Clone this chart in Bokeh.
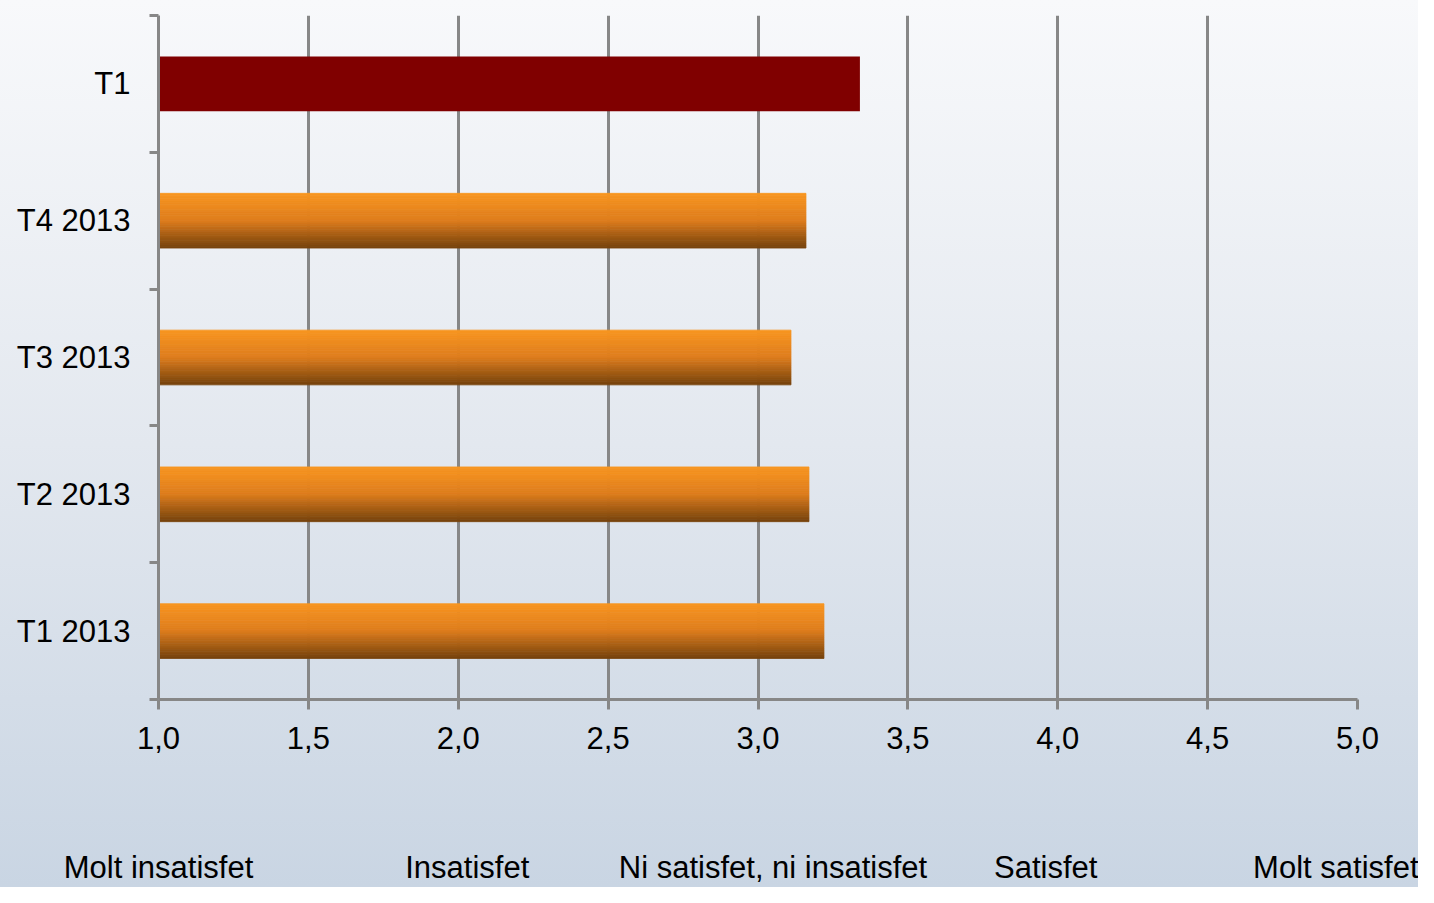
from bokeh.plotting import figure
from bokeh.models import FixedTicker, InlineStyleSheet, Range1d, LinearAxis
from bokeh.embed import file_html
from bokeh.resources import INLINE

# ---- data ----
categories = ["T1 2013", "T2 2013", "T3 2013", "T4 2013", "T1"]
values = [3.22, 3.17, 3.11, 3.16, 3.34]
highlight = [False, False, False, False, True]
x_ticks = [1.0, 1.5, 2.0, 2.5, 3.0, 3.5, 4.0, 4.5, 5.0]
x_tick_labels = ["1,0", "1,5", "2,0", "2,5", "3,0", "3,5", "4,0", "4,5", "5,0"]
scale_labels = ["Molt insatisfet", "Insatisfet", "Ni satisfet, ni insatisfet", "Satisfet", "Molt satisfet"]
scale_label_x = [1.0, 2.03, 3.05, 3.96, 4.95]

FONT = "Liberation Sans"
FS = "31px"
GRID = "#878787"

p = figure(width=1418, height=887, output_backend="svg", toolbar_location=None,
           x_range=Range1d(1, 5), y_range=Range1d(0, len(categories)),
           min_border_left=158, min_border_right=61, min_border_top=15, min_border_bottom=188)
p.outline_line_color = None
p.background_fill_alpha = 0
p.border_fill_alpha = 0
p.stylesheets = [InlineStyleSheet(css=":host { background: linear-gradient(to bottom, #f8f9fb 0%, #e3e8ef 50%, #c9d5e3 100%); }")]

# ---- bars (gradient simulated by horizontal slices) ----
bar_h = 0.4
N = 30
top_c = (249, 150, 32)
mid_c = (222, 125, 29)
bot_c = (118, 66, 12)

def grad(t):
    if t < 0.5:
        a, b, u = top_c, mid_c, t / 0.5
    else:
        a, b, u = mid_c, bot_c, (t - 0.5) / 0.5
    return "#%02x%02x%02x" % tuple(int(round(a[j] + (b[j] - a[j]) * u)) for j in range(3))

ys, rights, cols = [], [], []
hy, hr = [], []
sh = bar_h / N
for i, (cat, v, hl) in enumerate(zip(categories, values, highlight)):
    c = i + 0.5
    if hl:
        hy.append(c)
        hr.append(v)
        continue
    for k in range(N):
        ys.append(c + bar_h / 2 - (k + 0.5) * sh)
        rights.append(v)
        cols.append(grad((k + 0.5) / N))

p.hbar(y=ys, left=1, right=rights, height=sh, fill_color=cols, line_color=cols, line_width=0.8)
p.hbar(y=hy, left=1, right=hr, height=bar_h, fill_color="#800000", line_color=None)

# ---- axes ----
p.xaxis.ticker = FixedTicker(ticks=x_ticks, minor_ticks=[])
p.xaxis.major_label_overrides = {t: l for t, l in zip(x_ticks, x_tick_labels)}
p.xaxis.axis_line_color = GRID
p.xaxis.axis_line_width = 3
p.xaxis.major_tick_line_color = GRID
p.xaxis.major_tick_line_width = 3
p.xaxis.major_tick_out = 10
p.xaxis.major_tick_in = 0
p.xaxis.minor_tick_out = 0
p.xaxis.major_label_standoff = 17
p.xaxis.major_label_text_font = FONT
p.xaxis.major_label_text_font_size = FS
p.xaxis.major_label_text_color = "black"

# second bottom axis carrying the scale descriptions
scale_axis = LinearAxis(ticker=FixedTicker(ticks=scale_label_x, minor_ticks=[]),
                        major_label_overrides={x: l for x, l in zip(scale_label_x, scale_labels)},
                        axis_line_color=None, major_tick_line_color=None, minor_tick_line_color=None,
                        major_tick_out=0, major_tick_in=0, minor_tick_out=0, minor_tick_in=0,
                        major_label_standoff=98, major_label_text_font=FONT,
                        major_label_text_font_size=FS, major_label_text_color="black")
p.add_layout(scale_axis, "below")

ycent = [i + 0.5 for i in range(len(categories))]
p.yaxis.ticker = FixedTicker(ticks=ycent, minor_ticks=list(range(len(categories) + 1)))
p.yaxis.major_label_overrides = {c: n for c, n in zip(ycent, categories)}
p.yaxis.axis_line_color = GRID
p.yaxis.axis_line_width = 3
p.yaxis.major_tick_out = 0
p.yaxis.major_tick_in = 0
p.yaxis.minor_tick_out = 9
p.yaxis.minor_tick_in = 0
p.yaxis.minor_tick_line_color = GRID
p.yaxis.minor_tick_line_width = 3
p.yaxis.major_label_standoff = 19
p.yaxis.major_label_text_font = FONT
p.yaxis.major_label_text_font_size = FS
p.yaxis.major_label_text_color = "black"

p.xgrid.ticker = FixedTicker(ticks=x_ticks)
p.xgrid.grid_line_color = GRID
p.xgrid.grid_line_width = 3
p.ygrid.grid_line_color = None

open("out.html", "w").write(file_html(p, INLINE))
